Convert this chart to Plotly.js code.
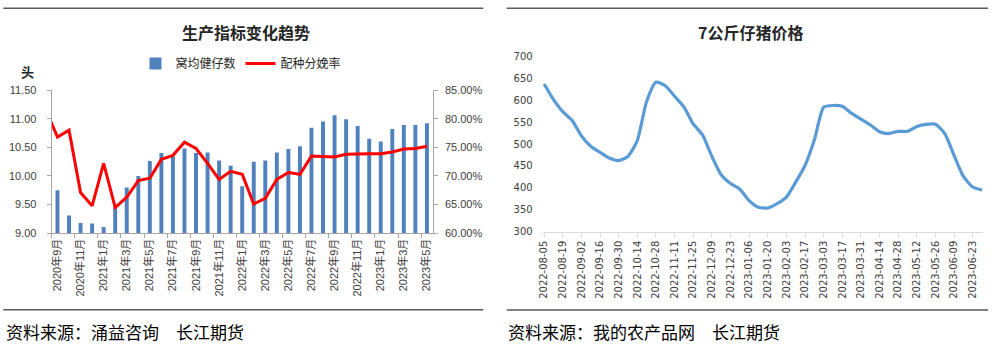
<!DOCTYPE html>
<html>
<head>
<meta charset="utf-8">
<script src="https://cdn.plot.ly/plotly-3.0.1.min.js"></script>
<style>
  html, body { margin: 0; padding: 0; background: #ffffff; }
  #chart { width: 1000px; height: 351px; }
</style>
</head>
<body>
<div id="chart"></div>
<script>
// ---------- Left chart: 生产指标变化趋势 ----------
// Month categories (2020年8月 only carries the rate point whose segment is clipped at the left axis)
const months = [
  '2020年8月','2020年9月','2020年10月','2020年11月','2020年12月',
  '2021年1月','2021年2月','2021年3月','2021年4月','2021年5月','2021年6月',
  '2021年7月','2021年8月','2021年9月','2021年10月','2021年11月','2021年12月',
  '2022年1月','2022年2月','2022年3月','2022年4月','2022年5月','2022年6月',
  '2022年7月','2022年8月','2022年9月','2022年10月','2022年11月','2022年12月',
  '2023年1月','2023年2月','2023年3月','2023年4月','2023年5月'
];
// Bar months: 2020年9月 .. 2023年5月
const barMonths = months.slice(1);
// 窝均健仔数 (头)
const litterSize = [
  9.75, 9.31, 9.18, 9.17, 9.11, 9.50, 9.80, 10.00, 10.26, 10.40,
  10.34, 10.48, 10.40, 10.41, 10.27, 10.18, 9.82, 10.25, 10.27, 10.41,
  10.47, 10.52, 10.84, 10.95, 11.06, 10.99, 10.87, 10.65, 10.60, 10.82,
  10.89, 10.89, 10.92
];
// 配种分娩率 (%), 2020年8月 .. 2023年5月
const farrowingRate = [
  81.5, 76.8, 78.0, 67.1, 64.8, 72.2, 64.5, 66.3, 69.2, 69.6, 72.9,
  73.6, 75.9, 74.8, 72.2, 69.4, 70.8, 70.3, 65.1, 66.1, 69.4, 70.6, 70.3,
  73.5, 73.4, 73.3, 73.8, 73.9, 73.9, 73.9, 74.2, 74.7, 74.8, 75.2
];
// x tick labels shown (every other month)
const leftTickLabels = [
  '2020年9月','2020年11月','2021年1月','2021年3月','2021年5月','2021年7月',
  '2021年9月','2021年11月','2022年1月','2022年3月','2022年5月','2022年7月',
  '2022年9月','2022年11月','2023年1月','2023年3月','2023年5月'
];

// ---------- Right chart: 7公斤仔猪价格 ----------
const weeks = [
  '2022-08-05','2022-08-12','2022-08-19','2022-08-26','2022-09-02','2022-09-09',
  '2022-09-16','2022-09-23','2022-09-30','2022-10-07','2022-10-14','2022-10-21',
  '2022-10-28','2022-11-04','2022-11-11','2022-11-18','2022-11-25','2022-12-02',
  '2022-12-09','2022-12-16','2022-12-23','2022-12-30','2023-01-06','2023-01-13',
  '2023-01-20','2023-01-27','2023-02-03','2023-02-10','2023-02-17','2023-02-24',
  '2023-03-03','2023-03-10','2023-03-17','2023-03-24','2023-03-31','2023-04-07',
  '2023-04-14','2023-04-21','2023-04-28','2023-05-05','2023-05-12','2023-05-19',
  '2023-05-26','2023-06-02','2023-06-09','2023-06-16','2023-06-23','2023-06-30'
];
const pigletPrice = [
  637, 602, 574, 554, 519, 495, 481, 468, 462, 472, 508, 597,
  641, 633, 609, 585, 546, 521, 472, 430, 410, 397, 371, 356,
  354, 364, 379, 413, 451, 509, 584, 588, 586, 570, 557, 544,
  528, 524, 529, 529, 540, 545, 545, 524, 474, 426, 402, 395
];
const rightTickLabels = [
  '2022-08-05','2022-08-19','2022-09-02','2022-09-16','2022-09-30','2022-10-14',
  '2022-10-28','2022-11-11','2022-11-25','2022-12-09','2022-12-23','2023-01-06',
  '2023-01-20','2023-02-03','2023-02-17','2023-03-03','2023-03-17','2023-03-31',
  '2023-04-14','2023-04-28','2023-05-12','2023-05-26','2023-06-09','2023-06-23'
];

const W = 1000, H = 351;
const px = v => v / W;
const py = v => 1 - v / H;

const latin = 'Liberation Sans, Noto Sans CJK SC, sans-serif';
const cjk = 'Noto Sans CJK SC, sans-serif';
const axisGray = '#A6A6A6';

const traces = [
  {
    type: 'bar', name: '窝均健仔数',
    x: barMonths, y: litterSize,
    xaxis: 'x', yaxis: 'y',
    marker: { color: '#4F81BD' },
    width: 0.34,
    hoverinfo: 'skip'
  },
  {
    type: 'scatter', mode: 'lines', name: '配种分娩率',
    x: months, y: farrowingRate,
    xaxis: 'x', yaxis: 'y2',
    line: { color: '#FF0000', width: 3 },
    hoverinfo: 'skip'
  },
  {
    type: 'scatter', mode: 'lines', name: '7公斤仔猪价格',
    x: weeks, y: pigletPrice,
    xaxis: 'x3', yaxis: 'y3',
    line: { color: '#5B9BD5', width: 3.2, shape: 'spline', smoothing: 0.6 },
    showlegend: false,
    hoverinfo: 'skip'
  }
];

const layout = {
  width: W, height: H,
  margin: { l: 0, r: 0, t: 0, b: 0 },
  paper_bgcolor: '#ffffff',
  plot_bgcolor: 'rgba(0,0,0,0)',
  showlegend: true,
  legend: {
    orientation: 'h',
    x: px(241), xanchor: 'center',
    y: py(63.5), yanchor: 'middle',
    font: { family: cjk, size: 12, color: '#262626' },
    bgcolor: 'rgba(0,0,0,0)',
    itemclick: false, itemdoubleclick: false
  },
  xaxis: {
    domain: [px(51.7), px(432.7)],
    anchor: 'y',
    type: 'category',
    categoryorder: 'array', categoryarray: months,
    range: [0.5, months.length - 0.5],
    tickmode: 'array', tickvals: leftTickLabels, ticktext: leftTickLabels,
    tickson: 'boundaries',
    tickangle: -90,
    tickfont: { family: latin, size: 11, color: '#404040' },
    ticks: 'outside', ticklen: 4, tickcolor: axisGray,
    showline: true, linecolor: axisGray, linewidth: 1,
    showgrid: false, zeroline: false, automargin: false, fixedrange: true
  },
  yaxis: {
    domain: [py(233.3), py(90)],
    anchor: 'x',
    range: [9, 11.5], dtick: 0.5, tick0: 9, tickformat: '.2f',
    tickfont: { family: latin, size: 11, color: '#404040' },
    ticks: 'outside', ticklen: 4, tickcolor: axisGray,
    ticklabelstandoff: 8,
    showline: true, linecolor: axisGray, linewidth: 1,
    showgrid: false, zeroline: false, automargin: false, fixedrange: true
  },
  yaxis2: {
    overlaying: 'y', side: 'right', anchor: 'x',
    range: [60, 85], dtick: 5, tick0: 60, tickformat: '.2f', ticksuffix: '%',
    tickfont: { family: latin, size: 11, color: '#404040' },
    ticks: 'outside', ticklen: 4, tickcolor: axisGray,
    ticklabelstandoff: 5,
    showline: true, linecolor: axisGray, linewidth: 1,
    showgrid: false, zeroline: false, automargin: false, fixedrange: true
  },
  xaxis3: {
    domain: [px(542.7), px(983)],
    anchor: 'y3',
    type: 'category',
    categoryorder: 'array', categoryarray: weeks,
    range: [-0.15, weeks.length - 1 + 0.1],
    tickmode: 'array', tickvals: rightTickLabels, ticktext: rightTickLabels,
    tickangle: -90,
    tickfont: { family: 'DejaVu Sans, sans-serif', size: 10, color: '#404040' },
    ticks: 'outside', ticklen: 4, tickcolor: '#D9D9D9',
    showline: true, linecolor: '#D9D9D9', linewidth: 1,
    showgrid: false, zeroline: false, automargin: false, fixedrange: true
  },
  yaxis3: {
    domain: [py(231.7), py(56.4)],
    anchor: 'x3',
    range: [300, 700], dtick: 50, tick0: 300,
    tickfont: { family: 'DejaVu Sans, sans-serif', size: 10, color: '#404040' },
    ticks: '', ticklabelstandoff: 9,
    showline: false, showgrid: false, zeroline: false,
    automargin: false, fixedrange: true
  },
  shapes: [
    { type: 'line', xref: 'paper', yref: 'paper', x0: px(3.3), x1: px(483.3), y0: py(8.3), y1: py(8.3), line: { color: '#595959', width: 1.5 } },
    { type: 'line', xref: 'paper', yref: 'paper', x0: px(3.3), x1: px(483.3), y0: py(309.7), y1: py(309.7), line: { color: '#595959', width: 1.5 } },
    { type: 'line', xref: 'paper', yref: 'paper', x0: px(506.7), x1: px(988), y0: py(8.3), y1: py(8.3), line: { color: '#595959', width: 1.5 } },
    { type: 'line', xref: 'paper', yref: 'paper', x0: px(506.7), x1: px(988), y0: py(310), y1: py(310), line: { color: '#595959', width: 1.5 } }
  ],
  annotations: [
    { xref: 'paper', yref: 'paper', x: px(245.8), y: py(31.7), xanchor: 'center', yanchor: 'middle',
      text: '<b>生产指标变化趋势</b>', showarrow: false,
      font: { family: cjk, size: 16, color: '#262626' } },
    { xref: 'paper', yref: 'paper', x: px(750.3), y: py(31.7), xanchor: 'center', yanchor: 'middle',
      text: '<b>7公斤仔猪价格</b>', showarrow: false,
      font: { family: cjk, size: 16, color: '#262626' } },
    { xref: 'paper', yref: 'paper', x: px(27.5), y: py(71.7), xanchor: 'center', yanchor: 'middle',
      text: '<b>头</b>', showarrow: false,
      font: { family: cjk, size: 13, color: '#262626' } },
    { xref: 'paper', yref: 'paper', x: px(4), y: py(331.7), xanchor: 'left', yanchor: 'middle',
      text: '资料来源：涌益咨询　长江期货', showarrow: false,
      font: { family: cjk, size: 17, color: '#000000' } },
    { xref: 'paper', yref: 'paper', x: px(506), y: py(331.7), xanchor: 'left', yanchor: 'middle',
      text: '资料来源：我的农产品网　长江期货', showarrow: false,
      font: { family: cjk, size: 17, color: '#000000' } }
  ]
};

Plotly.newPlot('chart', traces, layout, { staticPlot: true, displayModeBar: false, responsive: false });
</script>
</body>
</html>
